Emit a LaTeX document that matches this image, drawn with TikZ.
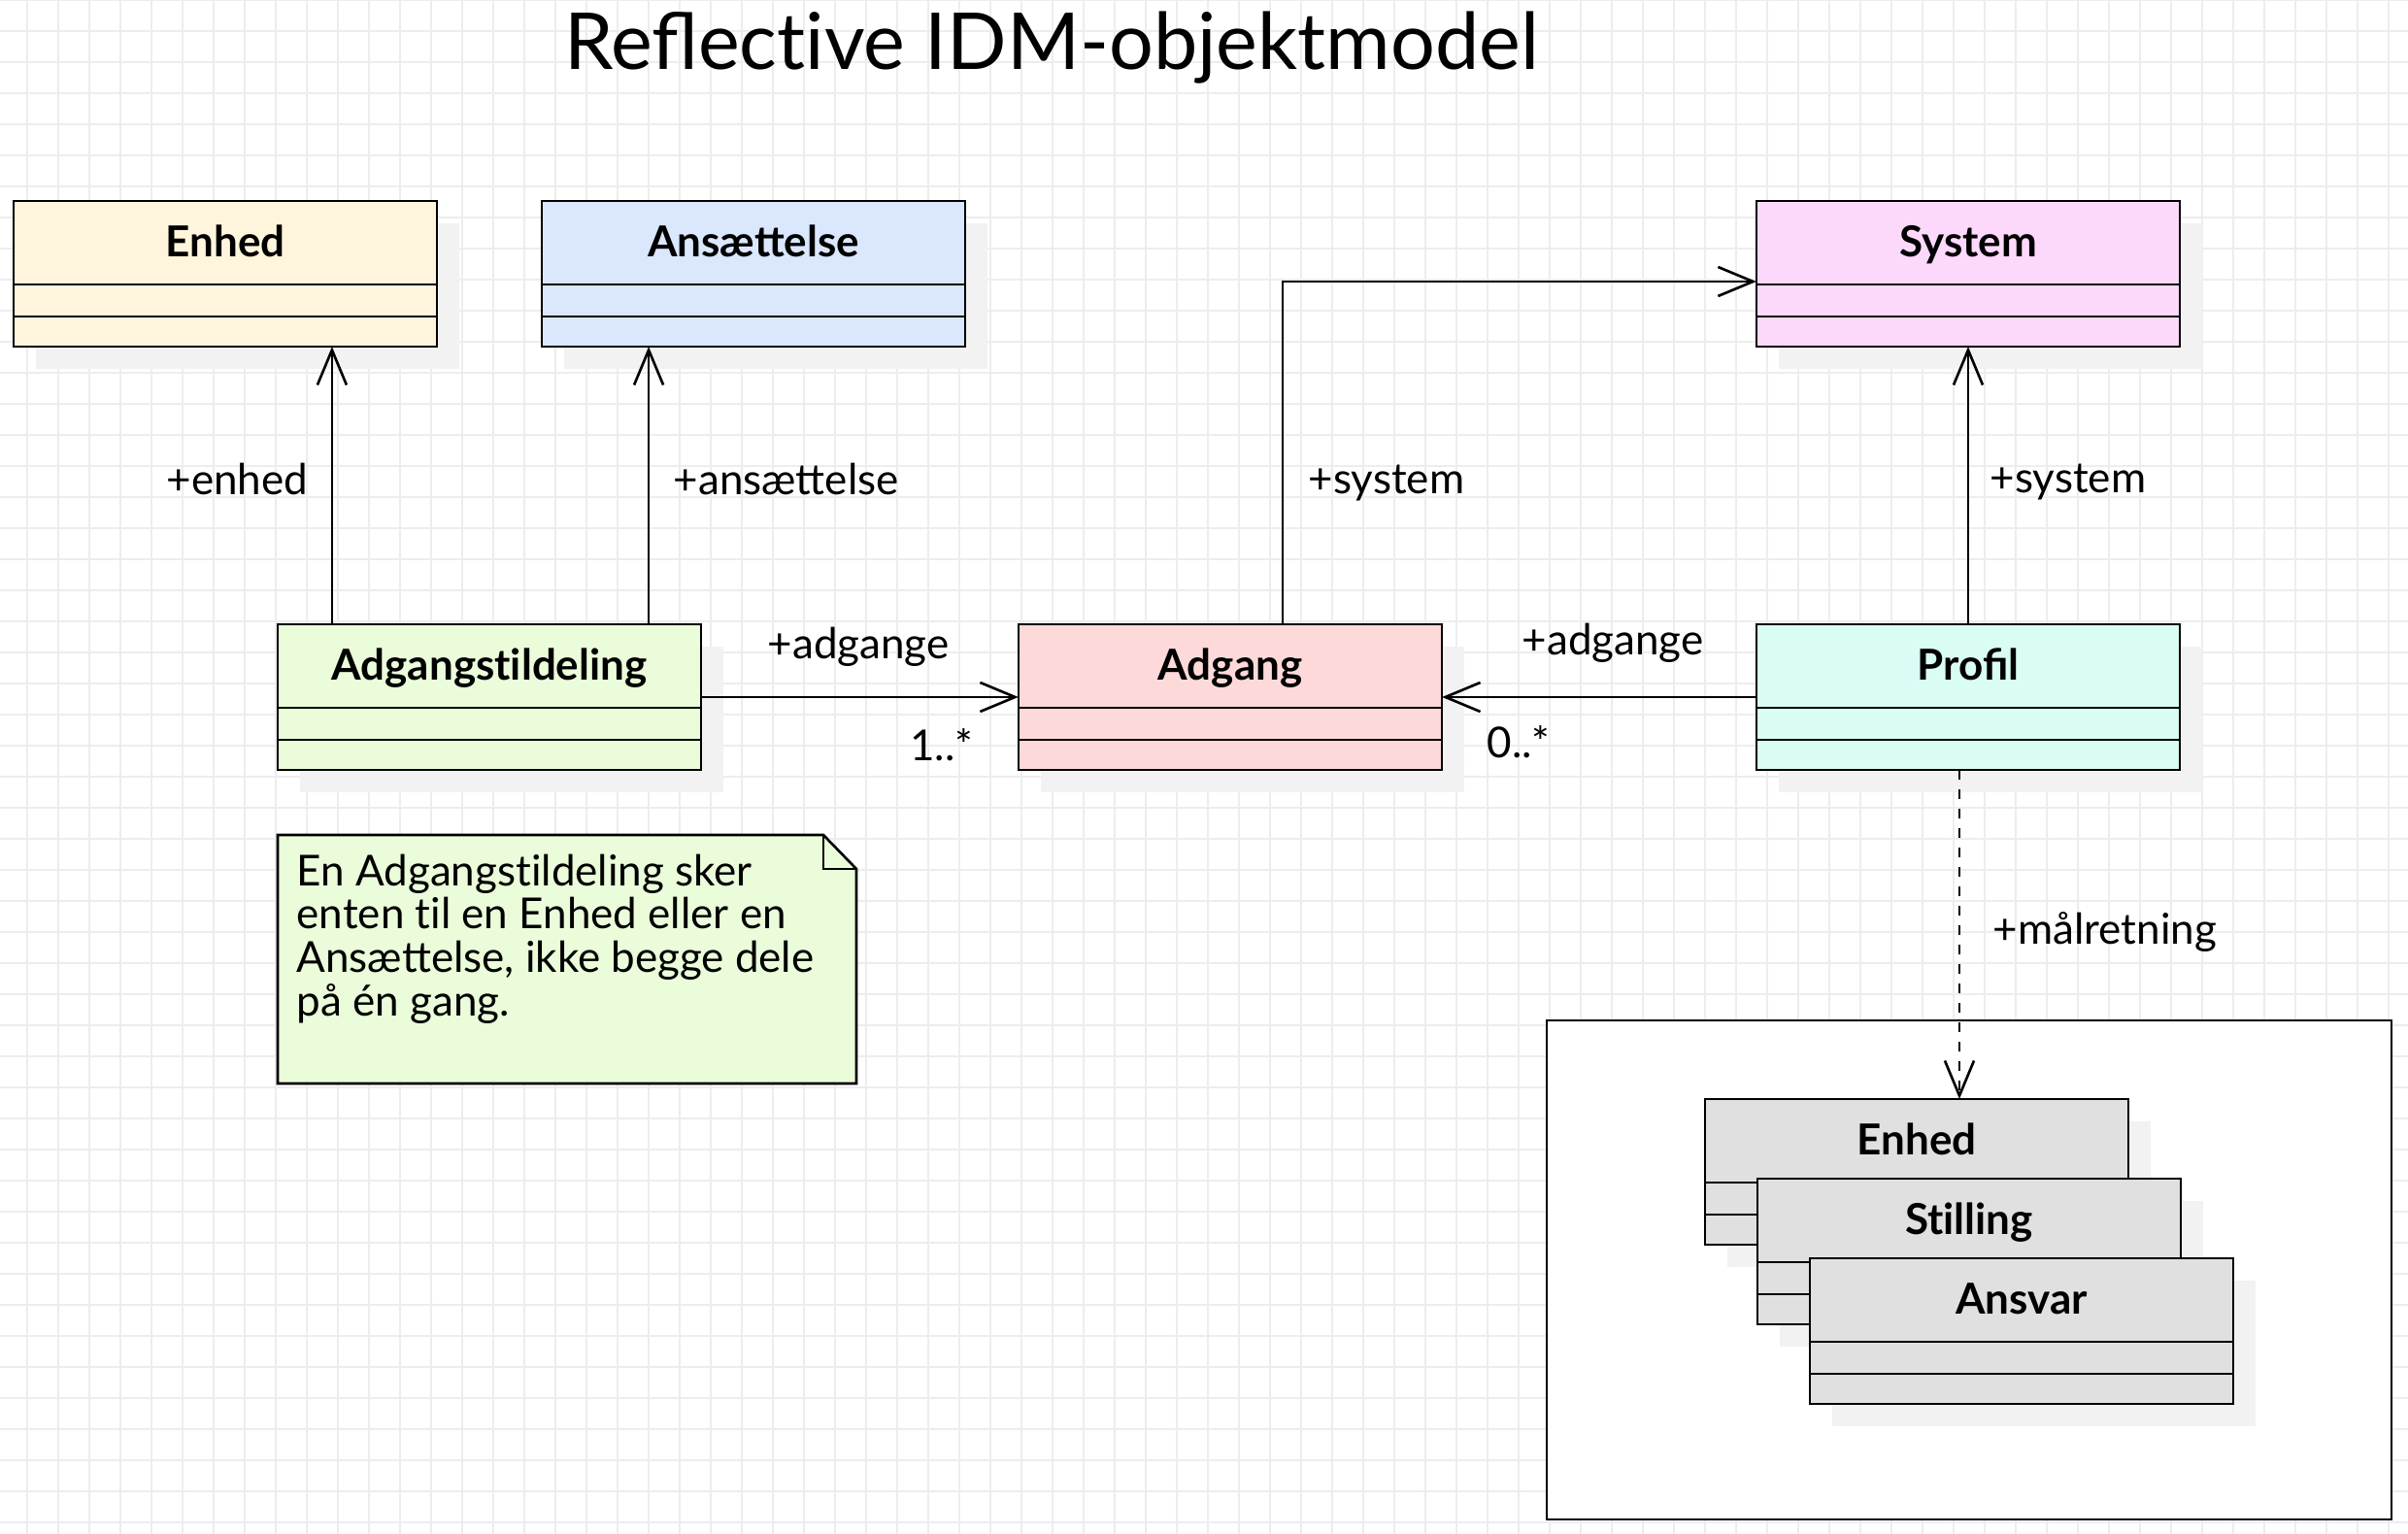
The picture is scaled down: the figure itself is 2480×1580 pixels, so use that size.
\documentclass[tikz,border=0pt]{standalone}
\usepackage{fontspec}
\setmainfont{Lato}
\usetikzlibrary{arrows.meta}
\definecolor{gittergraa}{HTML}{EDEDED}
\definecolor{skyggegraa}{HTML}{F2F2F2}
\definecolor{enhedfarve}{HTML}{FFF5DC}
\definecolor{ansfarve}{HTML}{DAE7FC}
\definecolor{systemfarve}{HTML}{FCD9FB}
\definecolor{tildelfarve}{HTML}{EAFCDA}
\definecolor{adgangfarve}{HTML}{FDD9DA}
\definecolor{profilfarve}{HTML}{D9FCF4}
\definecolor{graa}{HTML}{E0E0E0}
\begin{document}
\begin{tikzpicture}[x=0.01cm,y=-0.01cm,
gitter/.style={draw=gittergraa,line width=0.3pt},
skygge/.style={fill=skyggegraa},
klasse/.style={draw,line width=0.75pt,minimum width=4.36cm,minimum height=1.5cm,inner sep=0pt,outer sep=0pt},
klassenavn/.style={font=\bfseries\fontsize{12.5}{15}\selectfont,anchor=base,inner sep=0pt},
rolle/.style={font=\fontsize{12.5}{15}\selectfont,inner sep=0pt},
pil/.style={line width=0.75pt,-{Straight Barb[length=3.6mm,width=3mm]}}]
\useasboundingbox (0,0) rectangle (2480,1580);
\fill[white] (0,0) rectangle (2480,1580);
\foreach \gx in {28,60,...,2460} \draw[gitter] (\gx,0) -- (\gx,1580);
\foreach \gy in {0,32,...,1568} \draw[gitter] (0,\gy) -- (2480,\gy);
\node[font=\fontsize{23}{27}\selectfont,anchor=base,inner sep=0pt] (titel) at (1083,72) {Reflect\kern0pt ive IDM-objektmodel};
\draw[line width=0.75pt,fill=white] (1593,1051) rectangle (2463,1565);
\foreach \n/\bx/\by/\farve/\navn in {enhed/14/207/enhedfarve/Enhed,ansaettelse/558/207/ansfarve/Ansættelse,system/1809/207/systemfarve/System,adgangstildeling/286/643/tildelfarve/Adgangst\kern0pt ildeling,adgang/1049/643/adgangfarve/Adgang,profil/1809/643/profilfarve/Profil,maalenhed/1756/1132/graa/Enhed,stilling/1810/1214/graa/St\kern0pt illing,ansvar/1864/1296/graa/Ansvar}{
\fill[skygge] (\bx+23,\by+23) rectangle ++(436,150);
\node[klasse,fill=\farve] (\n) at (\bx+218,\by+75) {};
\node[klassenavn] (\n-navn) at (\bx+218,\by+58) {\navn};
\draw[line width=0.75pt] (\bx,\by+86) -- ++(436,0) (\bx,\by+119) -- ++(436,0);
}
\draw[line width=0.75pt,fill=tildelfarve] (286,860) -- (848,860) -- (882,895) -- (882,1116) -- (286,1116) -- cycle;
\draw[line width=0.75pt] (848,860) -- (848,895) -- (882,895);
\node[font=\fontsize{12.5}{12.7}\selectfont,align=left,anchor=north west,inner sep=0pt] (notat) at (305,879) {En Adgangst\kern0pt ildeling sker\\enten t\kern0pt il en Enhed eller en\\Ansættelse, ikke begge dele\\på én gang.};
\draw[pil] ([xshift=0.56cm]adgangstildeling.north west) -- ([xshift=0.56cm]adgangstildeling.north west |- enhed.south);
\draw[pil] ([xshift=3.82cm]adgangstildeling.north west) -- ([xshift=3.82cm]adgangstildeling.north west |- ansaettelse.south);
\draw[pil] (adgangstildeling.east) -- (adgang.west);
\draw[pil] (profil.west) -- (adgang.east);
\draw[pil] ([xshift=2.72cm]adgang.north west) |- ([yshift=-0.08cm]system.west);
\draw[pil] (profil.north) -- (system.south);
\draw[pil,dash pattern=on 0.1cm off 0.1cm] ([xshift=2.09cm]profil.south west) -- ([xshift=2.09cm]profil.south west |- maalenhed.north);
\node[rolle,anchor=base east] (r-enhed) at (318,510) {+enhed};
\node[rolle,anchor=base west] (r-ansaettelse) at (693,510) {+ansættelse};
\node[rolle,anchor=base west] (r-system1) at (1347,509) {+system};
\node[rolle,anchor=base west] (r-system2) at (2049,508) {+system};
\node[rolle,anchor=base west] (r-adgange1) at (790,679) {+adgange};
\node[rolle,anchor=base east] (m-en) at (1003,784) {1..*};
\node[rolle,anchor=base west] (r-adgange2) at (1567,675) {+adgange};
\node[rolle,anchor=base west] (m-nul) at (1531,781) {0..*};
\node[rolle,anchor=base west] (r-maal) at (2052,973) {+målretning};
\end{tikzpicture}
\end{document}
